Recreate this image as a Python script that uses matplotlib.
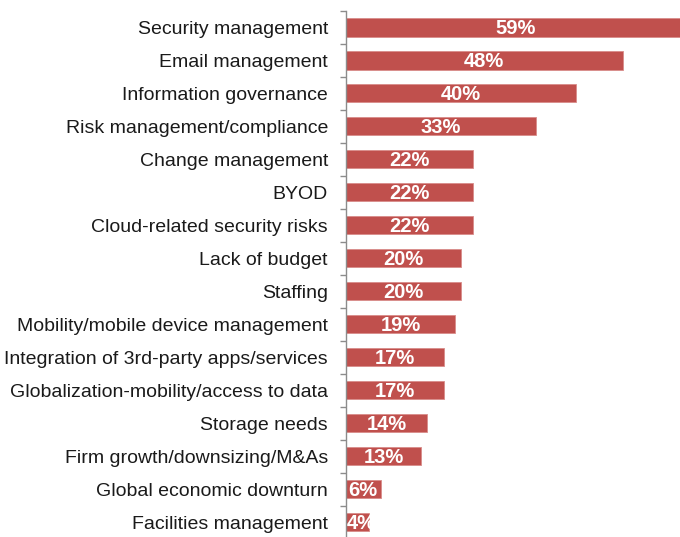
import matplotlib.pyplot as plt
import numpy as np

categories = ['Security management', 'Email management', 'Information governance',
              'Risk management/compliance', 'Change management', 'BYOD',
              'Cloud-related security risks', 'Lack of budget', 'Staffing',
              'Mobility/mobile device management', 'Integration of 3rd-party apps/services',
              'Globalization-mobility/access to data', 'Storage needs',
              'Firm growth/downsizing/M&As', 'Global economic downturn',
              'Facilities management']
values = [59, 48, 40, 33, 22, 22, 22, 20, 20, 19, 17, 17, 14, 13, 6, 4]

plt.rcParams['font.family'] = ['Liberation Sans', 'DejaVu Sans']

fig = plt.figure(figsize=(6.8, 5.37), dpi=100)
ax = fig.add_axes([0.5088, -0.0028, 0.5, 0.9823])

y = np.arange(len(categories))
bars = ax.barh(y, values, height=0.55, color='#C0504D', edgecolor='#D98C8A', linewidth=0.6)

# value labels centred in the bar, kept off the axis line and clipped to the bar
for b, v in zip(bars, values):
    t = ax.text(max(v / 2, 2.7), b.get_y() + b.get_height() / 2 + 0.03, '%d%%' % v,
                ha='center', va='center', color='white', fontsize=14.5,
                fontweight='bold')
    t.set_clip_path(b)

ax.set_xlim(0, 59)
ax.set_ylim(len(categories) - 0.5, -0.5)
ax.set_yticks(y)
ax.set_yticklabels(categories, fontsize=14, color='#1a1a1a')
ax.set_yticks(np.arange(len(categories) + 1) - 0.5, minor=True)
ax.tick_params(axis='y', which='major', length=0, pad=13)
ax.tick_params(axis='y', which='minor', length=4, width=1, color='#8c8c8c')
ax.set_xticks([])

for s in ['top', 'right', 'bottom']:
    ax.spines[s].set_visible(False)
ax.spines['left'].set_color('#8c8c8c')
ax.spines['left'].set_linewidth(1)

fig.savefig('out.png', dpi=100)
